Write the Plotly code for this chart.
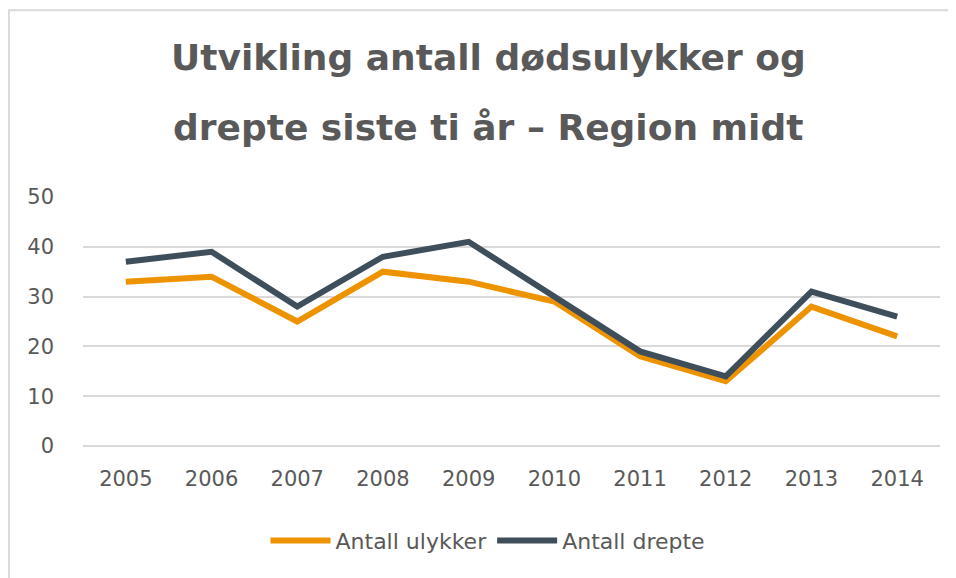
import plotly.graph_objects as go

# data
years = ["2005", "2006", "2007", "2008", "2009", "2010", "2011", "2012", "2013", "2014"]
antall_ulykker = [33, 34, 25, 35, 33, 29, 18, 13, 28, 22]
antall_drepte = [37, 39, 28, 38, 41, 30, 19, 14, 31, 26]
y_ticks = [0, 10, 20, 30, 40, 50]
title_lines = ["Utvikling antall dødsulykker og", "drepte siste ti år – Region midt"]

FONT = "DejaVu Sans"
TEXT_COLOR = "#595959"
GRID_COLOR = "#D9D9D9"

fig = go.Figure()

fig.add_trace(go.Scatter(x=years, y=antall_ulykker, mode="lines", name="Antall ulykker",
                         line=dict(color="#EE9300", width=6)))
fig.add_trace(go.Scatter(x=years, y=antall_drepte, mode="lines", name="Antall drepte",
                         line=dict(color="#3E4F5B", width=6)))

# two-line title as annotations (wider line spacing than plotly's default title)
for text, ypos in zip(title_lines, [1.56, 1.28]):
    fig.add_annotation(text=text, xref="paper", yref="paper", x=0.4726, y=ypos,
                       xanchor="center", yanchor="middle", showarrow=False,
                       font=dict(family=FONT, size=36, color=TEXT_COLOR, weight="bold"))

# chart frame
fig.add_shape(type="rect", xref="paper", yref="paper", x0=-0.0865, x1=1.1, y0=-0.7, y1=1.75,
              line=dict(color=GRID_COLOR, width=2), fillcolor="rgba(0,0,0,0)", layer="below")

# the page body adds an 8px offset, margins are set so the plot area lands where the reference has it
fig.update_layout(
    width=956,
    height=578,
    margin=dict(l=75, r=24, t=189, b=140, autoexpand=False),
    paper_bgcolor="white",
    plot_bgcolor="white",
    font=dict(family=FONT, size=21, color=TEXT_COLOR),
    showlegend=True,
    legend=dict(orientation="h", x=0.4726, xanchor="center", y=-0.38, yanchor="middle",
                font=dict(family=FONT, size=22, color=TEXT_COLOR), itemwidth=60),
    xaxis=dict(
        showgrid=False,
        showline=False,
        zeroline=False,
        ticks="",
        ticklabelstandoff=18,
        range=[-0.5, 9.5],
        automargin=False,
        tickfont=dict(size=21),
    ),
    yaxis=dict(
        range=[0, 50],
        tickvals=y_ticks,
        showgrid=True,
        gridcolor=GRID_COLOR,
        gridwidth=1.5,
        zeroline=True,
        zerolinecolor=GRID_COLOR,
        zerolinewidth=2,
        showline=False,
        ticks="",
        ticklabelstandoff=28,
        automargin=False,
        tickfont=dict(size=21),
    ),
)

fig.write_html("out.html")
